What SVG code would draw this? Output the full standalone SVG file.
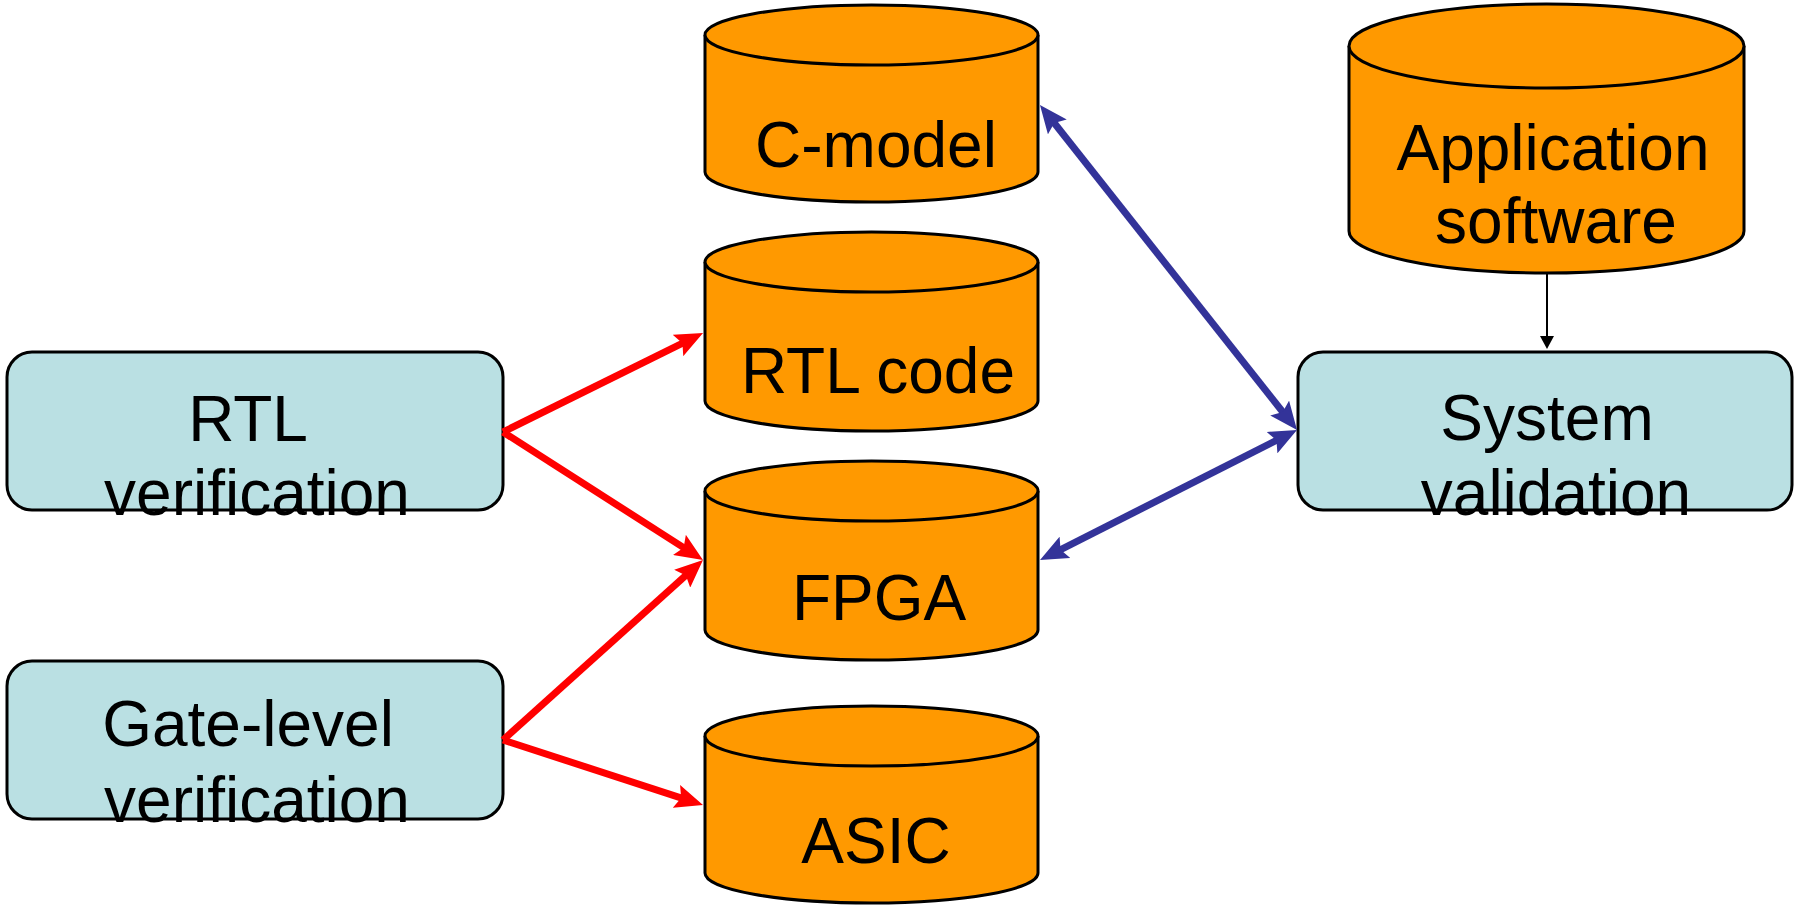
<svg xmlns="http://www.w3.org/2000/svg" width="1794" height="906" viewBox="0 0 1794 906">
  <style>
    .box { fill: #BAE0E3; stroke: #000; stroke-width: 3; }
    .cyl { fill: #FF9900; stroke: #000; stroke-width: 3; }
    .lbl { font-family: "Liberation Sans", Arial, sans-serif; font-size: 64px; fill: #000; text-anchor: middle; }
    .red { fill: none; stroke: #FF0000; stroke-width: 7; marker-end: url(#headRed); }
    .blue { fill: none; stroke: #333399; stroke-width: 7; marker-start: url(#headBlue); marker-end: url(#headBlue); }
    .thin { fill: none; stroke: #000; stroke-width: 2; marker-end: url(#headBlack); }
  </style>
  <defs>
    <marker id="headRed" viewBox="0 0 28 24" refX="12" refY="12" markerWidth="28" markerHeight="24" markerUnits="userSpaceOnUse" orient="auto-start-reverse">
      <path d="M0,0 L28,12 L0,24 L5,12 Z" fill="#FF0000"/>
    </marker>
    <marker id="headBlue" viewBox="0 0 28 24" refX="12" refY="12" markerWidth="28" markerHeight="24" markerUnits="userSpaceOnUse" orient="auto-start-reverse">
      <path d="M0,0 L28,12 L0,24 L5,12 Z" fill="#333399"/>
    </marker>
    <marker id="headBlack" viewBox="0 0 13 14" refX="7" refY="7" markerWidth="13" markerHeight="14" markerUnits="userSpaceOnUse" orient="auto">
      <path d="M0,0 L13,7 L0,14 Z" fill="#000"/>
    </marker>
  </defs>

  <rect width="1794" height="906" fill="#fff"/>

  <!-- storage cylinders -->
  <g id="c-model">
    <path class="cyl" d="M705,35 V172 A166.5,30 0 0 0 1038,172 V35"/>
    <ellipse class="cyl" cx="871.5" cy="35" rx="166.5" ry="30"/>
    <text class="lbl" x="876" y="167">C-model</text>
  </g>
  <g id="rtl-code">
    <path class="cyl" d="M705,262 V401 A166.5,30 0 0 0 1038,401 V262"/>
    <ellipse class="cyl" cx="871.5" cy="262" rx="166.5" ry="30"/>
    <text class="lbl" x="878" y="393">RTL code</text>
  </g>
  <g id="fpga">
    <path class="cyl" d="M705,491 V630 A166.5,30 0 0 0 1038,630 V491"/>
    <ellipse class="cyl" cx="871.5" cy="491" rx="166.5" ry="30"/>
    <text class="lbl" x="879" y="620">FPGA</text>
  </g>
  <g id="asic">
    <path class="cyl" d="M705,736 V873 A166.5,30 0 0 0 1038,873 V736"/>
    <ellipse class="cyl" cx="871.5" cy="736" rx="166.5" ry="30"/>
    <text class="lbl" x="876" y="863">ASIC</text>
  </g>
  <g id="application-software">
    <path class="cyl" d="M1349,46 V231 A197.5,42 0 0 0 1744,231 V46"/>
    <ellipse class="cyl" cx="1546.5" cy="46" rx="197.5" ry="42"/>
    <text class="lbl" x="1553" y="170">Application</text>
    <text class="lbl" x="1556" y="243">software</text>
  </g>

  <!-- verification / validation boxes -->
  <g id="rtl-verification">
    <rect class="box" x="7" y="352" width="496" height="158" rx="25" ry="25"/>
    <text class="lbl" x="248" y="441">RTL</text>
    <text class="lbl" x="257" y="515">verification</text>
  </g>
  <g id="gate-level-verification">
    <rect class="box" x="7" y="661" width="496" height="158" rx="25" ry="25"/>
    <text class="lbl" x="248" y="746">Gate-level</text>
    <text class="lbl" x="257" y="822">verification</text>
  </g>
  <g id="system-validation">
    <rect class="box" x="1298" y="352" width="494" height="158" rx="25" ry="25"/>
    <text class="lbl" x="1547" y="440">System</text>
    <text class="lbl" x="1556" y="515">validation</text>
  </g>

  <!-- connectors -->
  <g id="connectors">
    <path class="red" d="M503,432 L688.7,340.1"/>
    <path class="red" d="M503,432 L689.5,551.4"/>
    <path class="red" d="M503,740 L691.1,570.7"/>
    <path class="red" d="M503,740 L687.8,800.1"/>
    <path class="blue" d="M1049.9,117.5 L1287.1,417.5"/>
    <path class="blue" d="M1054.3,552.8 L1282.7,437.2"/>
    <path class="thin" d="M1547,273 L1547,343"/>
  </g>
</svg>
